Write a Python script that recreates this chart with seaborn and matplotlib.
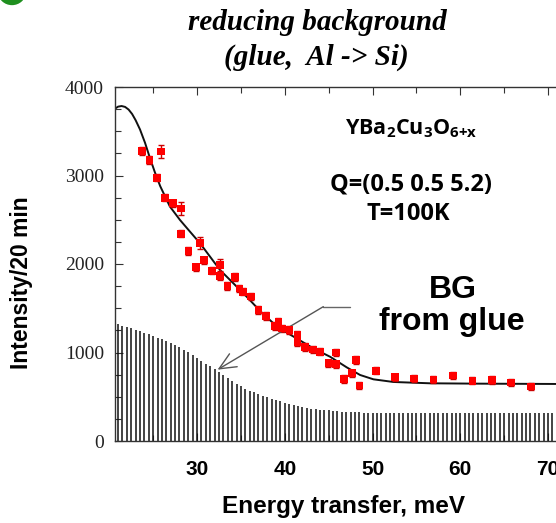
import numpy as np
import pandas as pd
import matplotlib
matplotlib.use("Agg")
import matplotlib.pyplot as plt
import seaborn as sns
from matplotlib.patches import Circle
from matplotlib.ticker import MultipleLocator

sns.set_theme(style="ticks")
plt.rcParams['font.family'] = ['Liberation Sans', 'DejaVu Sans']
plt.rcParams['text.color'] = 'black'
plt.rcParams['axes.labelcolor'] = 'black'
plt.rcParams['xtick.color'] = 'black'
plt.rcParams['ytick.color'] = 'black'
plt.rcParams['mathtext.fontset'] = 'custom'
plt.rcParams['mathtext.bf'] = 'Open Sans:bold'
plt.rcParams['mathtext.rm'] = 'Open Sans:bold'
plt.rcParams['mathtext.default'] = 'bf'

# measured points (energy meV, intensity, error)
energy = [23.70, 24.56, 25.44, 25.90, 26.35, 27.23, 28.14, 28.14, 29.01, 29.89,
          30.34, 30.80, 31.68, 32.59, 32.59, 33.45, 34.30, 34.82, 35.21, 36.12,
          36.99, 37.86, 38.89, 39.27, 39.65, 40.52, 41.43, 41.43, 42.31, 43.19,
          44.02, 44.96, 45.84, 45.84, 46.75, 47.63, 48.12, 48.50, 50.36, 52.56,
          54.73, 56.93, 59.14, 61.37, 63.58, 65.78, 68.03]
intensity = [3280, 3175, 2975, 3269, 2749, 2686, 2629, 2342, 2147, 1963,
             2234, 2042, 1924, 1989, 1864, 1751, 1853, 1725, 1687, 1631,
             1480, 1412, 1299, 1345, 1269, 1254, 1198, 1115, 1062, 1036,
             1009, 878, 1002, 867, 701, 765, 915, 625, 794, 720,
             708, 697, 742, 681, 689, 659, 614]
error = [45, 40, 40, 70, 40, 40, 70, 40, 40, 40,
         70, 40, 40, 70, 40, 40, 40, 40, 40, 40,
         40, 40, 40, 40, 40, 40, 40, 40, 40, 40,
         40, 40, 40, 40, 40, 40, 40, 40, 40, 40,
         40, 40, 40, 40, 40, 40, 40]

# fitted curve
fit_energy = [20.65, 21.0, 21.4, 21.8, 22.2, 22.6, 23.0, 23.5, 24.07, 24.64,
              25.2, 25.8, 26.9, 28.06, 29.2, 30.34, 31.48, 32.62, 34.14, 35.66,
              37.18, 38.7, 40.22, 41.5, 43.25, 45.16, 47.06, 48.58, 50.1, 52.37,
              56.55, 62.0, 72.0]
fit_intensity = [3755, 3778, 3785, 3775, 3745, 3695, 3625, 3520, 3370, 3195,
                 3035, 2880, 2650, 2497, 2365, 2234, 2083, 1932, 1782, 1630,
                 1470, 1330, 1225, 1150, 1047, 952, 832, 746, 697, 667,
                 652, 648, 644]

# background from glue (vertical bars)
bg_energy = [21.0 + 0.5 * i for i in range(100)]
bg_intensity = [1320, 1305, 1290, 1272, 1256, 1240, 1225, 1205, 1185, 1165,
                1148, 1130, 1108, 1085, 1060, 1033, 1003, 972, 940, 908,
                875, 842, 810, 780, 745, 710, 678, 645, 618, 592,
                570, 550, 530, 510, 493, 477, 462, 448, 434, 420,
                405, 392, 382, 373, 365, 358, 353, 350, 345, 341,
                337, 333, 330, 327, 325, 323, 321, 320, 319, 318,
                318, 317, 317, 316, 316, 316, 315, 315, 315, 315,
                315, 314, 314, 314, 314, 314, 314, 314, 313, 313,
                313, 313, 313, 313, 313, 313, 313, 313, 313, 313,
                313, 313, 313, 313, 313, 313, 313, 313, 313, 313]

x_ticks = [30, 40, 50, 60, 70]
y_ticks = [0, 1000, 2000, 3000, 4000]

W, H = 556, 523
fig = plt.figure(figsize=(W / 100, H / 100), dpi=100)
fig.patch.set_facecolor('white')

x0, x1 = 20.65, 72.0
px_per_unit = 8.775
left_px, right_px = 115, 115 + (x1 - x0) * px_per_unit
top_px, bot_px = 87, 441
ax = fig.add_axes([left_px / W, 1 - bot_px / H, (right_px - left_px) / W, (bot_px - top_px) / H])
ax.set_facecolor('white')

# background bars
ax.vlines(bg_energy, 0, bg_intensity, colors='#111111', linewidth=1.1)

# fitted line
fit_df = pd.DataFrame({'E': fit_energy, 'I': fit_intensity})
sns.lineplot(data=fit_df, x='E', y='I', ax=ax, color='#111111', linewidth=1.4, sort=False)

# data points
df = pd.DataFrame({'E': energy, 'I': intensity, 'err': error})
ax.errorbar(df['E'], df['I'], yerr=df['err'], fmt='none', ecolor='#cc0000', elinewidth=1.0, capsize=2,
            capthick=1.0, zorder=3)
sns.scatterplot(data=df, x='E', y='I', ax=ax, marker='s', s=30, color='#ff0000', edgecolor='none', zorder=4)

# arrow annotation
ax.plot([44.39, 47.44], [1518, 1518], color='#666666', linewidth=1.0)
ax.annotate('', xy=(32.34, 806), xytext=(44.39, 1518),
            arrowprops=dict(arrowstyle='->,head_length=1.0,head_width=0.45', color='#555555', linewidth=1.0,
                            shrinkA=0, shrinkB=0))

ax.set_xlim(x0, x1)
ax.set_ylim(0, 4000)
ax.set_xticks(x_ticks)
ax.set_xticklabels([str(t) for t in x_ticks], fontsize=15, fontweight='bold')
ax.xaxis.set_minor_locator(MultipleLocator(5))
ax.set_yticks(y_ticks)
ax.set_yticklabels([str(t) for t in y_ticks], fontsize=14, family='Liberation Serif', color='#222222')
ax.yaxis.set_minor_locator(MultipleLocator(250))
ax.tick_params(axis='both', which='major', direction='in', length=6, width=0.8, color='#333333',
               top=True, right=True)
ax.tick_params(axis='both', which='minor', direction='in', length=4, width=0.8, color='#333333',
               top=True, right=True)
ax.tick_params(axis='x', which='major', pad=14)
ax.tick_params(axis='y', which='major', pad=8)
for sp in ax.spines.values():
    sp.set_color('#333333')
    sp.set_linewidth(1.0)

ax.set_xlabel('')
ax.set_ylabel('')

fig.text(343 / W, 1 - 506 / H, 'Energy transfer, meV', fontsize=17.5, fontweight='bold', ha='center', va='center')
fig.text(22 / W, 1 - 283 / H, 'Intensity/20 min', fontsize=16.5, fontweight='bold', ha='center', va='center',
         rotation=90)

# title
fig.text(317 / W, 1 - 22 / H, 'reducing background', fontsize=21, fontweight='bold', fontstyle='italic',
         family='Liberation Serif', ha='center', va='center')
fig.text(316 / W, 1 - 57 / H, '(glue,  Al -> Si)', fontsize=21, fontweight='bold', fontstyle='italic',
         family='Liberation Serif', ha='center', va='center')

# annotations inside plot
fig.text(411 / W, 1 - 129 / H, r'YBa$_2$Cu$_3$O$_{6{+}x}$', fontsize=15.5, fontweight='bold',
         family='Open Sans', ha='center', va='center')
fig.text(411 / W, 1 - 184 / H, 'Q=(0.5 0.5 5.2)', fontsize=17, fontweight='bold', family='Open Sans',
         ha='center', va='center')
fig.text(408 / W, 1 - 214 / H, 'T=100K', fontsize=17, fontweight='bold', family='Open Sans',
         ha='center', va='center')
fig.text(453 / W, 1 - 290 / H, 'BG', fontsize=23, fontweight='bold', ha='center', va='center')
fig.text(452 / W, 1 - 322 / H, 'from glue', fontsize=23, fontweight='bold', ha='center', va='center')

# green marker at top-left corner
fig.patches.append(Circle((12 / W, 1 + 8 / H), 14 / W, transform=fig.transFigure, facecolor='#1f8f1f',
                          edgecolor='none', figure=fig))

fig.savefig('out.png', dpi=100)
